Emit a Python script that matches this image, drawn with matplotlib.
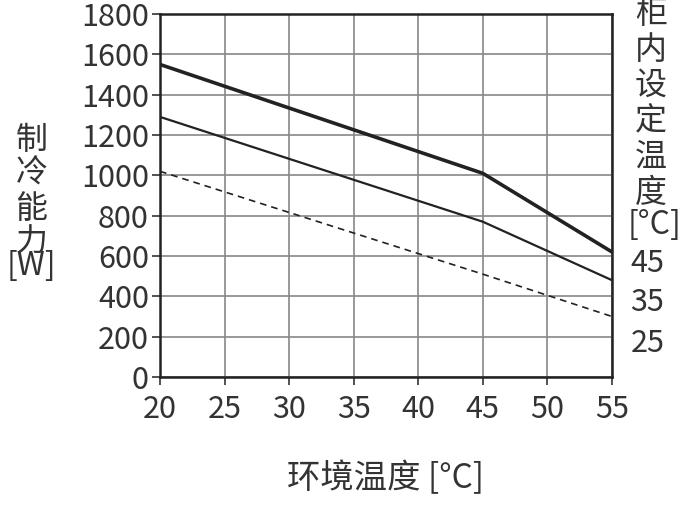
import matplotlib
matplotlib.use("Agg")
import matplotlib.pyplot as plt

plt.rcParams['font.family'] = ['Noto Sans CJK SC', 'DejaVu Sans']
C = '#333333'

x = [20, 45, 55]
s45 = [1550, 1010, 620]
s35 = [1290, 770, 480]
s25 = [1020, 510, 300]
labels = ['45', '35', '25']

fig = plt.figure(figsize=(7, 5.17), dpi=100)
ax = fig.add_axes([0.2286, 0.2708, 0.6457, 0.702])
ax.plot(x, s45, color='#222', lw=2.6)
ax.plot(x, s35, color='#222', lw=1.6)
ax.plot(x, s25, color='#222', lw=1.2, ls=(0, (4, 3)))
ax.set_xlim(20, 55)
ax.set_ylim(0, 1800)
ax.set_xticks(range(20, 56, 5))
ax.set_yticks(range(0, 1801, 200))
ax.grid(True, color='#888', lw=1.2)
for sp in ax.spines.values():
    sp.set_color('#222'); sp.set_linewidth(1.8)
ax.tick_params(labelsize=22, colors=C, length=6, width=1.2)
ax.tick_params(axis='x', pad=6)
ax.tick_params(axis='y', pad=2)
ypos = [0.49, 0.415, 0.335]
for yp, lab in zip(ypos, labels):
    fig.text(0.925, yp, lab, fontsize=22, color=C, ha='center', va='center')
fig.text(0.93, 0.80, '柜\n内\n设\n定\n温\n度', fontsize=23, color=C, ha='center', va='center', linespacing=1.15)
fig.text(0.935, 0.565, '[°C]', fontsize=23, color=C, ha='center', va='center')
fig.text(0.045, 0.63, '制\n冷\n能\n力', fontsize=23, color=C, ha='center', va='center', linespacing=1.1)
fig.text(0.045, 0.485, '[W]', fontsize=23, color=C, ha='center', va='center')
fig.text(0.55, 0.075, '环境温度 [°C]', fontsize=24, color=C, ha='center', va='center')
fig.savefig('out.png', dpi=100)
